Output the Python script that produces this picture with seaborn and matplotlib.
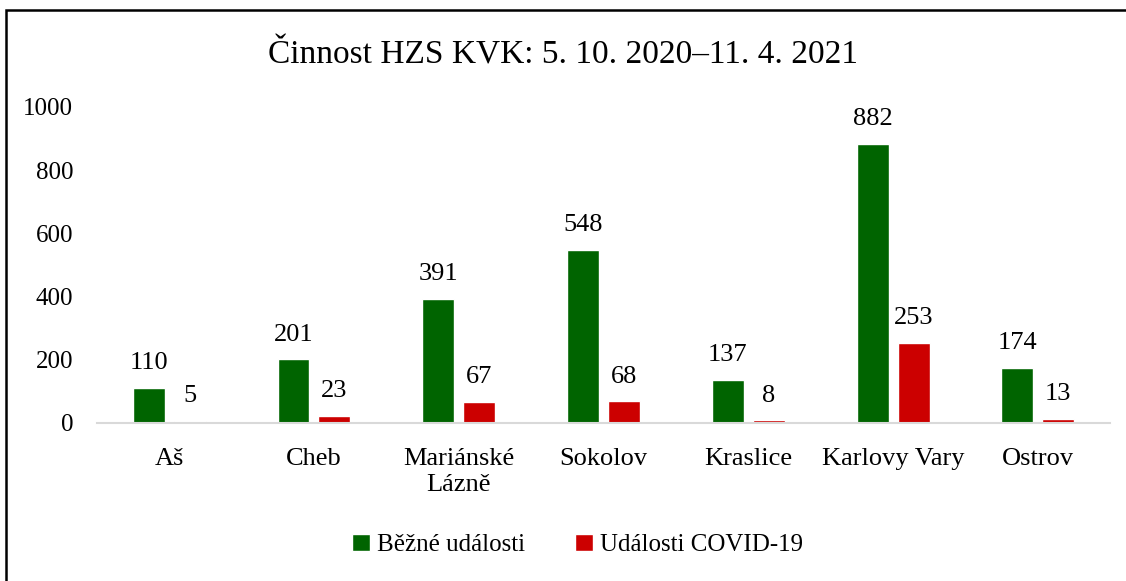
import matplotlib
matplotlib.use("Agg")
import matplotlib.pyplot as plt
import seaborn as sns
import pandas as pd
from matplotlib.patches import Rectangle

categories = ["Aš", "Cheb", "Mariánské\nLázně", "Sokolov", "Kraslice", "Karlovy Vary", "Ostrov"]
series_names = ["Běžné události", "Události COVID-19"]
bezne = [110, 201, 391, 548, 137, 882, 174]
covid = [5, 23, 67, 68, 8, 253, 13]
yticks = [0, 200, 400, 600, 800, 1000]
title = "Činnost HZS KVK: 5. 10. 2020–11. 4. 2021"
colors = ["#006400", "#CC0000"]

sns.set_theme(style="white")
plt.rcParams["font.family"] = ["Liberation Serif", "DejaVu Serif"]
plt.rcParams["text.color"] = "black"
plt.rcParams["xtick.color"] = "black"
plt.rcParams["ytick.color"] = "black"

df = pd.DataFrame({
    "cat": categories * 2,
    "val": bezne + covid,
    "series": [series_names[0]] * len(categories) + [series_names[1]] * len(categories),
})

fig = plt.figure(figsize=(11.26, 5.81), dpi=100)
ax = fig.add_axes([0.086, 0.272, 0.90, 0.544])
sns.barplot(data=df, x="cat", y="val", hue="series", palette=colors,
            width=0.566, gap=0.22, ax=ax, saturation=1, legend=True)

ax.set_ylim(0, 1000)
ax.set_yticks(yticks)
ax.set_yticklabels([str(t) for t in yticks], fontsize=18)
ax.tick_params(axis="y", length=0, pad=17)
ax.tick_params(axis="x", length=0, pad=18, labelsize=19)
for lbl in ax.get_xticklabels():
    lbl.set_linespacing(1.25)
ax.set_xlabel("")
ax.set_ylabel("")
for s in ["top", "right", "left"]:
    ax.spines[s].set_visible(False)
ax.spines["bottom"].set_color("#d9d9d9")
ax.spines["bottom"].set_linewidth(1.5)
ax.set_xlim(-0.5, len(categories) - 0.5)

for cont in ax.containers:
    ax.bar_label(cont, padding=10, fontsize=19)

ax.legend(loc="center", bbox_to_anchor=(0.513, 0.062), bbox_transform=fig.transFigure,
          ncol=2, frameon=False,
          fontsize=18, handlelength=0.7, handleheight=0.7, handletextpad=0.3,
          columnspacing=2.0)

fig.text(0.5, 0.905, title, ha="center", va="center", fontsize=24)

fig.patches.append(Rectangle((0.0055, -0.05), 1.1, 1.033, transform=fig.transFigure,
                             fill=False, edgecolor="black", linewidth=1.8))

fig.savefig("out.png", dpi=100)
